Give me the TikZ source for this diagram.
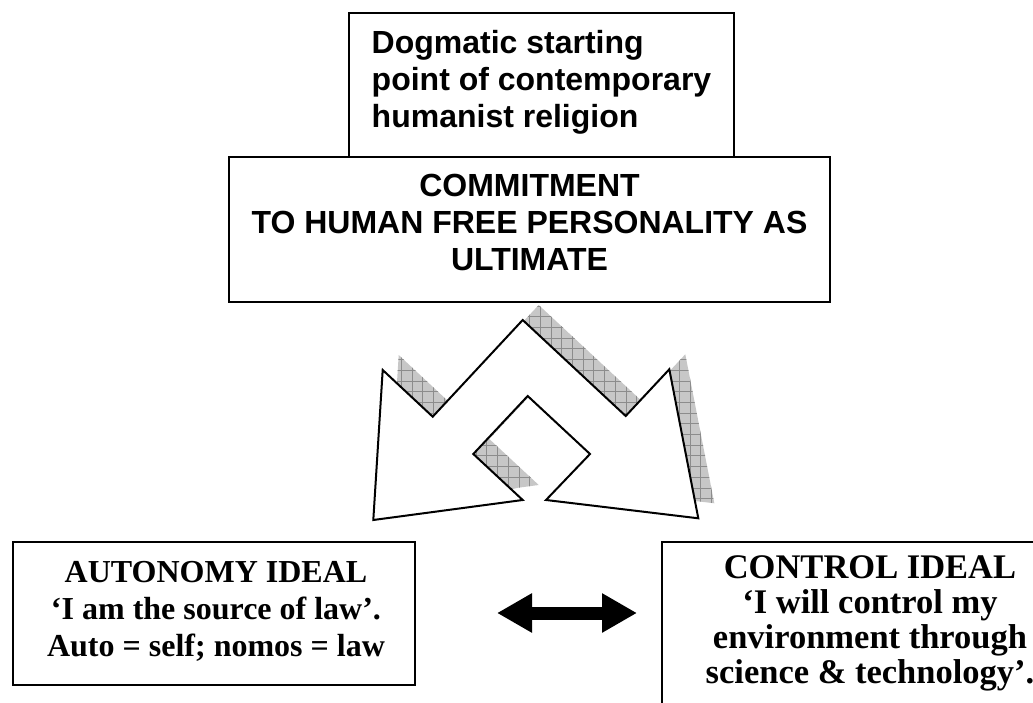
\documentclass[tikz,border=0pt]{standalone}
\usepackage{fontspec}
\setmainfont{Liberation Serif}
\newfontfamily\arialfam{Liberation Sans}
\usetikzlibrary{arrows.meta}
\begin{document}
\begin{tikzpicture}[x=1pt,y=-1pt,
  boxstyle/.style={draw=black, line width=1.6pt, fill=white, rectangle, inner sep=0pt},
  sanstxt/.style={font=\arialfam\bfseries\fontsize{32}{37}\selectfont, align=center, inner sep=0pt},
  seriftxt/.style={font=\bfseries\fontsize{32}{37}\selectfont, align=center, inner sep=0pt},
  shadowfill/.style={fill=black!22},
  shadowgrid/.style={draw=black!45, line width=0.7pt},
  forkstyle/.style={draw=black, fill=white, line width=2pt, line join=miter},
  dblarrow/.style={line width=13pt, {Triangle[length=35pt,width=37pt]}-{Triangle[length=35pt,width=37pt]}}
]
\useasboundingbox (0,0) rectangle (1033,703);
\clip (0,0) rectangle (1033,703);
\def\forkoutline{(522.7,320) -- (432.7,416.7) -- (382.7,370) -- (373.3,520) -- (522.7,500) -- (473.3,454) -- (527.7,396) -- (590,454) -- (546,500) -- (698.3,518.3) -- (669.3,369.3) -- (625.7,416) -- cycle}
% shadow
\begin{scope}[shift={(16,-15)}]
  \clip \forkoutline;
  \fill[shadowfill] (300,280) rectangle (760,560);
  \draw[shadowgrid, step=10.7pt] (300,280) grid (760,560);
\end{scope}
% fork arrow
\draw[forkstyle] \forkoutline;
% boxes
\node[boxstyle, minimum width=385pt, minimum height=144pt] (dogmabox) at (541.5,85) {};
\node[sanstxt, align=left] (dogmatext) at (541.5,82) {Dogmatic starting\\point of contemporary\\humanist religion};
\node[boxstyle, minimum width=601pt, minimum height=145pt] (commitbox) at (529.5,229.5) {};
\node[sanstxt] (committext) at (529.5,222) {COMMITMENT\\TO HUMAN FREE PERSONALITY AS\\ULTIMATE};
\node[boxstyle, minimum width=402pt, minimum height=143pt] (autobox) at (214,613.5) {};
\node[seriftxt] (autotext) at (216,611) {AUTONOMY IDEAL\\‘I am the source of law’.\\Auto = self; nomos = law};
\node[boxstyle, minimum width=416pt, minimum height=186pt] (ctrlbox) at (870,635) {};
\node[seriftxt, font=\bfseries\fontsize{34.5}{35}\selectfont] (ctrltext) at (870,623) {CONTROL IDEAL\\‘I will control my\\environment through\\science \& technology’.};
% double arrow
\coordinate (dal) at (497,613);
\coordinate (dar) at (637,613);
\draw[dblarrow] (dal) -- (dar);
\end{tikzpicture}
\end{document}
